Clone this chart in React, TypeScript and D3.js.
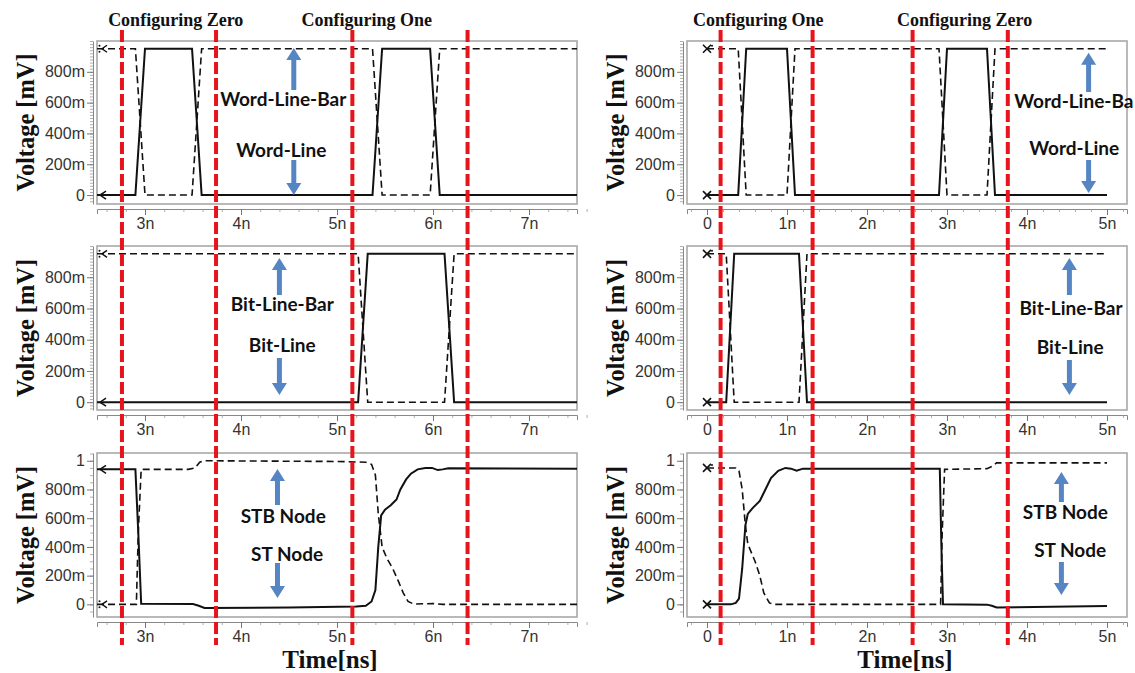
import React, { useRef, useEffect } from 'react';
import * as d3 from 'd3';

type Pt = [number, number];

// time [ns], voltage [V]
const leftWordLine: Pt[] = [[2.5, 0], [2.9, 0], [3.0, 0.95], [3.49, 0.95], [3.59, 0], [5.37, 0], [5.47, 0.95], [5.97, 0.95], [6.07, 0], [7.5, 0]]
const leftWordLineBar: Pt[] = [[2.5, 0.95], [2.9, 0.95], [3.0, 0], [3.49, 0], [3.59, 0.95], [5.37, 0.95], [5.47, 0], [5.97, 0], [6.07, 0.95], [7.5, 0.95]]
const leftBitLine: Pt[] = [[2.5, 0], [5.22, 0], [5.32, 0.95], [6.12, 0.95], [6.22, 0], [7.5, 0]]
const leftBitLineBar: Pt[] = [[2.5, 0.95], [5.22, 0.95], [5.32, 0], [6.12, 0], [6.22, 0.95], [7.5, 0.95]]
const leftST: Pt[] = [[2.5, 0.94], [2.9, 0.94], [2.93, 0.5], [2.96, 0.005], [3.5, 0.002], [3.56, -0.01], [3.62, -0.025], [4.5, -0.022], [5.2, -0.015], [5.3, -0.01], [5.36, 0.02], [5.4, 0.1], [5.43, 0.4], [5.46, 0.62], [5.5, 0.66], [5.56, 0.69], [5.62, 0.73], [5.66, 0.8], [5.72, 0.87], [5.77, 0.91], [5.84, 0.94], [5.92, 0.95], [5.99, 0.95], [6.05, 0.935], [6.1, 0.94], [6.16, 0.948], [7.5, 0.945]]
const leftSTB: Pt[] = [[2.5, 0], [2.91, 0], [2.93, 0.5], [2.96, 0.94], [3.45, 0.94], [3.52, 0.95], [3.57, 0.99], [3.62, 1.0], [5.0, 0.995], [5.3, 0.99], [5.36, 0.975], [5.4, 0.9], [5.43, 0.63], [5.47, 0.4], [5.52, 0.32], [5.58, 0.25], [5.64, 0.16], [5.69, 0.08], [5.74, 0.02], [5.8, 0.002], [6.0, 0.006], [6.1, 0], [7.5, 0]]

const rightWordLine: Pt[] = [[0, 0], [0.39, 0], [0.49, 0.95], [1.0, 0.95], [1.1, 0], [2.9, 0], [3.0, 0.95], [3.5, 0.95], [3.6, 0], [5, 0]]
const rightWordLineBar: Pt[] = [[0, 0.95], [0.39, 0.95], [0.49, 0], [1.0, 0], [1.1, 0.95], [2.9, 0.95], [3.0, 0], [3.5, 0], [3.6, 0.95], [5, 0.95]]
const rightBitLine: Pt[] = [[0, 0], [0.24, 0], [0.34, 0.95], [1.15, 0.95], [1.25, 0], [5, 0]]
const rightBitLineBar: Pt[] = [[0, 0.95], [0.24, 0.95], [0.34, 0], [1.15, 0], [1.25, 0.95], [5, 0.95]]
const rightST: Pt[] = [[0, 0], [0.3, 0], [0.36, 0.01], [0.4, 0.04], [0.44, 0.25], [0.48, 0.55], [0.51, 0.63], [0.57, 0.67], [0.66, 0.72], [0.73, 0.8], [0.8, 0.88], [0.89, 0.93], [0.98, 0.95], [1.05, 0.945], [1.12, 0.93], [1.2, 0.945], [2.91, 0.945], [2.93, 0.4], [2.95, 0], [3.5, -0.002], [3.56, -0.01], [3.62, -0.022], [5, -0.012]]
const rightSTB: Pt[] = [[0, 0.95], [0.36, 0.95], [0.4, 0.93], [0.44, 0.8], [0.48, 0.55], [0.51, 0.42], [0.6, 0.3], [0.66, 0.2], [0.71, 0.08], [0.78, 0.01], [0.84, 0], [2.92, 0], [2.94, 0.5], [2.97, 0.94], [3.5, 0.945], [3.56, 0.96], [3.62, 0.985], [5, 0.985]]

const leftMarkerTimes = [2.76, 3.74, 5.16, 6.36]
const rightMarkerTimes = [0.17, 1.32, 2.57, 3.76]
const leftPhaseLabels = ['Configuring Zero', 'Configuring One']
const leftPhaseTimes = [3.32, 5.31]
const rightPhaseLabels = ['Configuring One', 'Configuring Zero']
const rightPhaseTimes = [0.64, 3.22]

const leftTimeTicks = [3, 4, 5, 6, 7]
const rightTimeTicks = [0, 1, 2, 3, 4, 5]
const voltTicks = [0, 0.2, 0.4, 0.6, 0.8]
const voltTicksNode = [0, 0.2, 0.4, 0.6, 0.8, 1]

// layout
const cols = [
  { left: 97, right: 577, domain: [2.5, 7.5], ticks: leftTimeTicks, titleX: 25, timeX: 330, markerKind: 'arrow' },
  { left: 687, right: 1127, domain: [-0.25, 5.25], ticks: rightTimeTicks, titleX: 615, timeX: 905, markerKind: 'cross' },
]
const rows = [
  { top: 41, bottom: 204, domain: [-0.058, 1.0], ticks: voltTicks, minor: 0.02 },
  { top: 246, bottom: 410, domain: [-0.05, 1.0], ticks: voltTicks, minor: 0.02 },
  { top: 453, bottom: 617, domain: [-0.088, 1.054], ticks: voltTicksNode, minor: 0.05 },
]

// note: arrow at t, up arrow from v tip to v tail, labels (t, v)
const panels = [
  { col: 0, row: 0, solid: leftWordLine, dashed: leftWordLineBar, up: 'Word-Line-Bar', down: 'Word-Line',
    note: { at: 4.55, upA: [0.955, 0.682], downA: [0.228, 0.0], upT: [4.44, 0.623], downT: [4.42, 0.292], upAnchor: 'middle' } },
  { col: 0, row: 1, solid: leftBitLine, dashed: leftBitLineBar, up: 'Bit-Line-Bar', down: 'Bit-Line',
    note: { at: 4.40, upA: [0.923, 0.687], downA: [0.283, 0.046], upT: [4.43, 0.624], downT: [4.43, 0.366], upAnchor: 'middle' } },
  { col: 0, row: 2, solid: leftST, dashed: leftSTB, up: 'STB Node', down: 'ST Node',
    note: { at: 4.38, upA: [0.943, 0.692], downA: [0.288, 0.045], upT: [4.44, 0.616], downT: [4.48, 0.351], upAnchor: 'middle' } },
  { col: 1, row: 0, solid: rightWordLine, dashed: rightWordLineBar, up: 'Word-Line-Ba', down: 'Word-Line',
    note: { at: 4.77, upA: [0.923, 0.669], downA: [0.228, 0.013], upT: [5.33, 0.606], downT: [4.59, 0.306], upAnchor: 'end' } },
  { col: 1, row: 1, solid: rightBitLine, dashed: rightBitLineBar, up: 'Bit-Line-Bar', down: 'Bit-Line',
    note: { at: 4.53, upA: [0.923, 0.687], downA: [0.27, 0.046], upT: [4.55, 0.603], downT: [4.54, 0.353], upAnchor: 'middle' } },
  { col: 1, row: 2, solid: rightST, dashed: rightSTB, up: 'STB Node', down: 'ST Node',
    note: { at: 4.43, upA: [0.922, 0.713], downA: [0.295, 0.065], upT: [4.48, 0.643], downT: [4.54, 0.379], upAnchor: 'middle' } },
]

const serif = '"Liberation Serif", "Times New Roman", serif'
const sans = '"Liberation Sans", Arial, sans-serif'
const noteFont = 'Lato, "Open Sans", sans-serif'

const fmtV = (v: number) => (v === 0 ? '0' : Math.abs(v - 1) < 1e-9 ? '1' : Math.round(v * 1000) + 'm')
const fmtT = (t: number) => (t === 0 ? '0' : t + 'n')

function App() {
  const ref = useRef<SVGSVGElement>(null)

  useEffect(() => {
    draw()
  }, [])

  const draw = () => {
    const svg = d3.select(ref.current)
    svg.selectAll('*').remove()
    const defs = svg.append('defs')

    panels.forEach((p, i) => {
      const col = cols[p.col], row = rows[p.row]
      const x = d3.scaleLinear().domain(col.domain).range([col.left, col.right])
      const y = d3.scaleLinear().domain(row.domain).range([row.bottom, row.top])

      defs.append('clipPath').attr('id', 'clip' + i)
        .append('rect')
        .attr('x', col.left).attr('y', row.top)
        .attr('width', col.right - col.left).attr('height', row.bottom - row.top)

      // frame
      svg.append('rect')
        .attr('x', col.left).attr('y', row.top)
        .attr('width', col.right - col.left).attr('height', row.bottom - row.top)
        .attr('fill', 'none').attr('stroke', '#a8a8a8').attr('stroke-width', 1.6)

      // y axis
      const lo = row.domain[0], hi = row.domain[1]
      const minorV = d3.range(Math.ceil(lo / row.minor), Math.floor(hi / row.minor + 1e-6) + 1).map(k => k * row.minor)
      const gyMinor = svg.append('g').attr('transform', `translate(${col.left - 4},0)`)
        .call(d3.axisLeft(y).tickValues(minorV).tickFormat(() => '').tickSize(3).tickSizeOuter(0))
      gyMinor.select('.domain').attr('stroke', '#888').attr('stroke-width', 1)
      gyMinor.selectAll('.tick line').attr('stroke', '#999').attr('stroke-width', 0.8)

      const gy = svg.append('g').attr('transform', `translate(${col.left - 4},0)`)
        .call(d3.axisLeft(y).tickValues(row.ticks).tickFormat(fmtV as any).tickSize(6).tickSizeOuter(0).tickPadding(2))
      gy.select('.domain').remove()
      gy.selectAll('.tick line').attr('stroke', '#777').attr('stroke-width', 1)
      gy.selectAll('.tick text').attr('fill', '#333').style('font-family', sans).style('font-size', '16px')

      // x axis
      const xAxisY = row.bottom + 5
      const minorT = d3.range(Math.round(col.domain[0] / 0.2), Math.round(col.domain[1] / 0.2) + 1).map(k => k * 0.2)
      const gxMinor = svg.append('g').attr('transform', `translate(0,${xAxisY})`)
        .call(d3.axisBottom(x).tickValues(minorT).tickFormat(() => '').tickSize(3).tickSizeOuter(5))
      gxMinor.select('.domain').attr('stroke', '#888').attr('stroke-width', 1)
      gxMinor.selectAll('.tick line').attr('stroke', '#999').attr('stroke-width', 0.8)

      const gx = svg.append('g').attr('transform', `translate(0,${xAxisY})`)
        .call(d3.axisBottom(x).tickValues(col.ticks).tickFormat(fmtT as any).tickSize(6).tickPadding(3))
      gx.select('.domain').remove()
      gx.selectAll('.tick line').attr('stroke', '#777').attr('stroke-width', 1)
      gx.selectAll('.tick text').attr('fill', '#333').style('font-family', sans).style('font-size', '16px')

      // signals
      const line = d3.line<Pt>().x(d => x(d[0])).y(d => y(d[1]))
      const plot = svg.append('g').attr('clip-path', `url(#clip${i})`)
      plot.append('path').datum(p.dashed).attr('d', line)
        .attr('fill', 'none').attr('stroke', '#111').attr('stroke-width', 1.6)
        .attr('stroke-dasharray', '7,4')
      plot.append('path').datum(p.solid).attr('d', line)
        .attr('fill', 'none').attr('stroke', '#111').attr('stroke-width', 2)

      // start markers
      const x0 = x(p.solid[0][0])
      const ys = y(p.solid[0][1]), yd = y(p.dashed[0][1])
      if (col.markerKind === 'arrow') {
        svg.append('path').attr('d', `M${x0 + 9},${ys - 4} L${x0 + 3},${ys} L${x0 + 9},${ys + 4}`)
          .attr('fill', 'none').attr('stroke', '#111').attr('stroke-width', 1.5)
        svg.append('path').attr('d', `M${x0 + 10},${yd - 3.5} L${x0 + 5},${yd} L${x0 + 10},${yd + 3.5}`)
          .attr('fill', 'none').attr('stroke', '#111').attr('stroke-width', 1.4)
        ;[-3, 3].forEach(dy => svg.append('circle').attr('cx', x0 + 2.5).attr('cy', yd + dy).attr('r', 1).attr('fill', '#111'))
      } else {
        ;[ys, yd].forEach(yy => {
          svg.append('path').attr('d', `M${x0 - 4},${yy - 4} L${x0 + 4},${yy + 4} M${x0 - 4},${yy + 4} L${x0 + 4},${yy - 4}`)
            .attr('stroke', '#111').attr('stroke-width', 1.6)
        })
        svg.append('circle').attr('cx', x0 + 5).attr('cy', yd - 3).attr('r', 1).attr('fill', '#111')
      }

      // y title
      svg.append('text')
        .attr('transform', `translate(${col.titleX},${(row.top + row.bottom) / 2}) rotate(-90)`)
        .attr('text-anchor', 'middle').attr('dy', '0.35em')
        .attr('textLength', 138).attr('lengthAdjust', 'spacingAndGlyphs')
        .style('font-family', serif).style('font-size', '25px').style('font-weight', 'bold')
        .attr('fill', '#111')
        .text('Voltage [mV]')

      // annotations
      const n = p.note
      const ax = x(n.at)
      const arrow = (tip: number, tail: number) => {
        const dir = tail > tip ? 1 : -1
        const hl = 12 * dir
        return `M${ax},${tip} L${ax + 7.5},${tip + hl} L${ax + 2.5},${tip + hl} L${ax + 2.5},${tail} L${ax - 2.5},${tail} L${ax - 2.5},${tip + hl} L${ax - 7.5},${tip + hl} Z`
      }
      svg.append('path').attr('d', arrow(y(n.upA[0]), y(n.upA[1]))).attr('fill', '#5585c2')
      svg.append('path').attr('d', arrow(y(n.downA[1]), y(n.downA[0]))).attr('fill', '#5585c2')
      svg.append('text').attr('x', x(n.upT[0])).attr('y', y(n.upT[1])).attr('dy', '0.35em')
        .attr('text-anchor', n.upAnchor)
        .style('font-family', noteFont).style('font-size', '19px').style('font-weight', 'bold').attr('fill', '#111')
        .text(p.up)
      svg.append('text').attr('x', x(n.downT[0])).attr('y', y(n.downT[1])).attr('dy', '0.35em')
        .attr('text-anchor', 'middle')
        .style('font-family', noteFont).style('font-size', '19px').style('font-weight', 'bold').attr('fill', '#111')
        .text(p.down)
    })

    // Time labels, phase labels and red markers per column
    cols.forEach((col, c) => {
      const x = d3.scaleLinear().domain(col.domain).range([col.left, col.right])
      svg.append('text').attr('x', col.timeX).attr('y', 668).attr('text-anchor', 'middle')
        .style('font-family', serif).style('font-size', '25px').style('font-weight', 'bold').attr('fill', '#111')
        .text('Time[ns]')

      const labels = c === 0 ? leftPhaseLabels : rightPhaseLabels
      const times = c === 0 ? leftPhaseTimes : rightPhaseTimes
      labels.forEach((lab, k) => {
        svg.append('text').attr('x', x(times[k])).attr('y', 26).attr('text-anchor', 'middle')
          .style('font-family', serif).style('font-size', '18px').style('font-weight', 'bold').attr('fill', '#111')
          .text(lab)
      })

      const marks = c === 0 ? leftMarkerTimes : rightMarkerTimes
      svg.selectAll(null).data(marks).enter().append('line')
        .attr('x1', d => x(d)).attr('x2', d => x(d))
        .attr('y1', 30).attr('y2', 645)
        .attr('stroke', '#e8141b').attr('stroke-width', 4)
        .attr('stroke-dasharray', '12,4')
    })
  }

  return (
    <svg ref={ref} width={1135} height={673}
      style={{ position: 'absolute', left: 0, top: 0, background: '#fff', display: 'block' }}>
    </svg>
  )
}

export default App
